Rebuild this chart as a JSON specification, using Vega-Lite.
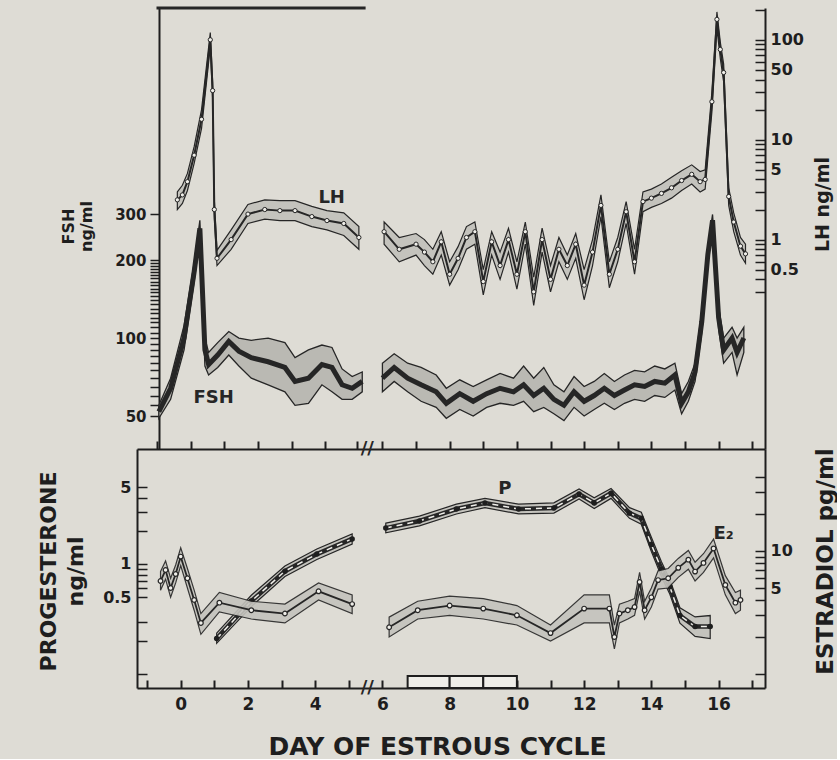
{
  "$schema": "https://vega.github.io/schema/vega-lite/v6.json",
  "background": "#dedcd5",
  "padding": {"left": 36, "top": 1, "right": 0, "bottom": 0},
  "spacing": 0,
  "bounds": "flush",
  "datasets": {
    "lh": [
      {"day": -0.1, "v": 2.5, "lo": 2.0, "hi": 3.0, "seg": "a"},
      {"day": 0.05, "v": 2.8, "lo": 2.3, "hi": 3.5, "seg": "a"},
      {"day": 0.2, "v": 3.8, "lo": 3.1, "hi": 4.6, "seg": "a"},
      {"day": 0.4, "v": 7, "lo": 5.8, "hi": 8.5, "seg": "a"},
      {"day": 0.62, "v": 16, "lo": 13, "hi": 20, "seg": "a"},
      {"day": 0.88, "v": 100, "lo": 85, "hi": 118, "seg": "a"},
      {"day": 0.95, "v": 31, "lo": 26, "hi": 38, "seg": "a"},
      {"day": 1.0, "v": 2.0, "lo": 1.6, "hi": 2.5, "seg": "a"},
      {"day": 1.08, "v": 0.65, "lo": 0.55, "hi": 0.78, "seg": "a"},
      {"day": 1.5, "v": 1.0, "lo": 0.8, "hi": 1.25, "seg": "a"},
      {"day": 2.0, "v": 1.8, "lo": 1.45, "hi": 2.25, "seg": "a"},
      {"day": 2.5, "v": 2.0, "lo": 1.6, "hi": 2.5, "seg": "a"},
      {"day": 2.95, "v": 1.95, "lo": 1.55, "hi": 2.45, "seg": "a"},
      {"day": 3.4, "v": 1.95, "lo": 1.55, "hi": 2.45, "seg": "a"},
      {"day": 3.9, "v": 1.7, "lo": 1.35, "hi": 2.15, "seg": "a"},
      {"day": 4.35, "v": 1.55, "lo": 1.25, "hi": 1.95, "seg": "a"},
      {"day": 4.85, "v": 1.45, "lo": 1.1, "hi": 1.85, "seg": "a"},
      {"day": 5.3, "v": 1.05, "lo": 0.8, "hi": 1.35, "seg": "a"},
      {"day": 6.05, "v": 1.2, "lo": 0.9, "hi": 1.5, "seg": "b"},
      {"day": 6.5, "v": 0.8, "lo": 0.6, "hi": 1.05, "seg": "b"},
      {"day": 7.0, "v": 0.9, "lo": 0.7, "hi": 1.15, "seg": "b"},
      {"day": 7.25, "v": 0.75, "lo": 0.55, "hi": 1.0, "seg": "b"},
      {"day": 7.5, "v": 0.6, "lo": 0.45, "hi": 0.8, "seg": "b"},
      {"day": 7.75, "v": 0.95, "lo": 0.7, "hi": 1.2, "seg": "b"},
      {"day": 8.0, "v": 0.45, "lo": 0.35, "hi": 0.6, "seg": "b"},
      {"day": 8.25, "v": 0.65, "lo": 0.5, "hi": 0.85, "seg": "b"},
      {"day": 8.5, "v": 1.05, "lo": 0.8, "hi": 1.35, "seg": "b"},
      {"day": 8.75, "v": 1.2, "lo": 0.9, "hi": 1.5, "seg": "b"},
      {"day": 9.0, "v": 0.38, "lo": 0.28, "hi": 0.5, "seg": "b"},
      {"day": 9.25, "v": 0.95, "lo": 0.7, "hi": 1.2, "seg": "b"},
      {"day": 9.5, "v": 0.55, "lo": 0.4, "hi": 0.75, "seg": "b"},
      {"day": 9.75, "v": 1.0, "lo": 0.75, "hi": 1.3, "seg": "b"},
      {"day": 10.0, "v": 0.45, "lo": 0.32, "hi": 0.6, "seg": "b"},
      {"day": 10.25, "v": 1.2, "lo": 0.9, "hi": 1.5, "seg": "b"},
      {"day": 10.5, "v": 0.3, "lo": 0.22, "hi": 0.42, "seg": "b"},
      {"day": 10.75, "v": 1.0, "lo": 0.75, "hi": 1.3, "seg": "b"},
      {"day": 11.0, "v": 0.4, "lo": 0.3, "hi": 0.55, "seg": "b"},
      {"day": 11.25, "v": 0.8, "lo": 0.6, "hi": 1.05, "seg": "b"},
      {"day": 11.5, "v": 0.55, "lo": 0.4, "hi": 0.7, "seg": "b"},
      {"day": 11.75, "v": 0.9, "lo": 0.65, "hi": 1.15, "seg": "b"},
      {"day": 12.0, "v": 0.35, "lo": 0.25, "hi": 0.5, "seg": "b"},
      {"day": 12.25, "v": 0.75, "lo": 0.55, "hi": 1.0, "seg": "b"},
      {"day": 12.5, "v": 2.2, "lo": 1.7, "hi": 2.8, "seg": "b"},
      {"day": 12.75, "v": 0.45, "lo": 0.33, "hi": 0.6, "seg": "b"},
      {"day": 13.0, "v": 0.8, "lo": 0.6, "hi": 1.05, "seg": "b"},
      {"day": 13.25, "v": 1.9, "lo": 1.45, "hi": 2.4, "seg": "b"},
      {"day": 13.5, "v": 0.6, "lo": 0.45, "hi": 0.8, "seg": "b"},
      {"day": 13.75, "v": 2.4, "lo": 1.9, "hi": 3.0, "seg": "b"},
      {"day": 14.0, "v": 2.6, "lo": 2.1, "hi": 3.2, "seg": "b"},
      {"day": 14.3, "v": 2.9, "lo": 2.3, "hi": 3.6, "seg": "b"},
      {"day": 14.6, "v": 3.3, "lo": 2.6, "hi": 4.2, "seg": "b"},
      {"day": 14.9, "v": 3.9, "lo": 3.1, "hi": 4.9, "seg": "b"},
      {"day": 15.2, "v": 4.5, "lo": 3.6, "hi": 5.6, "seg": "b"},
      {"day": 15.45, "v": 3.8, "lo": 3.0, "hi": 4.8, "seg": "b"},
      {"day": 15.6, "v": 4.0, "lo": 3.2, "hi": 5.0, "seg": "b"},
      {"day": 15.8, "v": 24, "lo": 19, "hi": 30, "seg": "b"},
      {"day": 15.95, "v": 160, "lo": 130, "hi": 190, "seg": "b"},
      {"day": 16.05, "v": 80, "lo": 65, "hi": 95, "seg": "b"},
      {"day": 16.15, "v": 47, "lo": 38, "hi": 57, "seg": "b"},
      {"day": 16.3, "v": 2.7, "lo": 2.2, "hi": 3.3, "seg": "b"},
      {"day": 16.45, "v": 1.5, "lo": 1.2, "hi": 1.85, "seg": "b"},
      {"day": 16.65, "v": 0.86, "lo": 0.7, "hi": 1.05, "seg": "b"},
      {"day": 16.8, "v": 0.72, "lo": 0.58, "hi": 0.9, "seg": "b"}
    ],
    "fsh": [
      {"day": -0.65, "v": 52, "lo": 49, "hi": 55, "seg": "a"},
      {"day": -0.3, "v": 64, "lo": 58, "hi": 70, "seg": "a"},
      {"day": 0.1, "v": 100, "lo": 90, "hi": 112, "seg": "a"},
      {"day": 0.4, "v": 180, "lo": 165, "hi": 195, "seg": "a"},
      {"day": 0.57, "v": 265, "lo": 245, "hi": 285, "seg": "a"},
      {"day": 0.72, "v": 90, "lo": 78, "hi": 100, "seg": "a"},
      {"day": 0.83, "v": 79, "lo": 72, "hi": 88, "seg": "a"},
      {"day": 1.1, "v": 86, "lo": 77, "hi": 96, "seg": "a"},
      {"day": 1.43, "v": 97, "lo": 86, "hi": 106, "seg": "a"},
      {"day": 1.73, "v": 89, "lo": 78, "hi": 100, "seg": "a"},
      {"day": 2.1, "v": 84, "lo": 70, "hi": 98, "seg": "a"},
      {"day": 2.6, "v": 81, "lo": 66, "hi": 100, "seg": "a"},
      {"day": 3.1, "v": 77, "lo": 62, "hi": 96, "seg": "a"},
      {"day": 3.4, "v": 68, "lo": 55, "hi": 84, "seg": "a"},
      {"day": 3.8, "v": 70, "lo": 56, "hi": 90, "seg": "a"},
      {"day": 4.2, "v": 79, "lo": 66, "hi": 94, "seg": "a"},
      {"day": 4.5, "v": 77, "lo": 62, "hi": 92, "seg": "a"},
      {"day": 4.8, "v": 66, "lo": 58, "hi": 76, "seg": "a"},
      {"day": 5.1, "v": 64, "lo": 58, "hi": 71, "seg": "a"},
      {"day": 5.4, "v": 68, "lo": 62, "hi": 74, "seg": "a"},
      {"day": 6.0, "v": 70, "lo": 62, "hi": 80, "seg": "b"},
      {"day": 6.35, "v": 77, "lo": 68, "hi": 87, "seg": "b"},
      {"day": 6.75, "v": 70, "lo": 62, "hi": 80, "seg": "b"},
      {"day": 7.15, "v": 66, "lo": 57, "hi": 77, "seg": "b"},
      {"day": 7.6, "v": 62, "lo": 54, "hi": 72, "seg": "b"},
      {"day": 7.9, "v": 56, "lo": 49, "hi": 64, "seg": "b"},
      {"day": 8.3, "v": 61, "lo": 53, "hi": 69, "seg": "b"},
      {"day": 8.7, "v": 57, "lo": 50, "hi": 65, "seg": "b"},
      {"day": 9.1, "v": 61, "lo": 54, "hi": 69, "seg": "b"},
      {"day": 9.5, "v": 64, "lo": 56, "hi": 73, "seg": "b"},
      {"day": 9.9, "v": 62, "lo": 55, "hi": 70, "seg": "b"},
      {"day": 10.2, "v": 66, "lo": 57, "hi": 78, "seg": "b"},
      {"day": 10.5, "v": 60, "lo": 52, "hi": 70, "seg": "b"},
      {"day": 10.8, "v": 64, "lo": 54, "hi": 77, "seg": "b"},
      {"day": 11.1, "v": 58, "lo": 51, "hi": 66, "seg": "b"},
      {"day": 11.4, "v": 55, "lo": 48, "hi": 62, "seg": "b"},
      {"day": 11.7, "v": 62, "lo": 54, "hi": 71, "seg": "b"},
      {"day": 12.0, "v": 57, "lo": 50, "hi": 65, "seg": "b"},
      {"day": 12.3, "v": 60, "lo": 53, "hi": 68, "seg": "b"},
      {"day": 12.6, "v": 64, "lo": 56, "hi": 73, "seg": "b"},
      {"day": 12.9, "v": 60, "lo": 53, "hi": 68, "seg": "b"},
      {"day": 13.2, "v": 63, "lo": 56, "hi": 72, "seg": "b"},
      {"day": 13.5, "v": 66, "lo": 58, "hi": 75, "seg": "b"},
      {"day": 13.8, "v": 65, "lo": 57, "hi": 74, "seg": "b"},
      {"day": 14.1, "v": 68, "lo": 60, "hi": 78, "seg": "b"},
      {"day": 14.4, "v": 67, "lo": 59, "hi": 76, "seg": "b"},
      {"day": 14.7, "v": 72, "lo": 63, "hi": 80, "seg": "b"},
      {"day": 14.9, "v": 56, "lo": 51, "hi": 61, "seg": "b"},
      {"day": 15.1, "v": 62, "lo": 57, "hi": 68, "seg": "b"},
      {"day": 15.3, "v": 74, "lo": 68, "hi": 80, "seg": "b"},
      {"day": 15.5, "v": 116, "lo": 105, "hi": 128, "seg": "b"},
      {"day": 15.68, "v": 210, "lo": 195, "hi": 225, "seg": "b"},
      {"day": 15.82, "v": 285, "lo": 265, "hi": 300, "seg": "b"},
      {"day": 16.0, "v": 120, "lo": 108, "hi": 132, "seg": "b"},
      {"day": 16.15, "v": 90, "lo": 80, "hi": 100, "seg": "b"},
      {"day": 16.4, "v": 100, "lo": 88, "hi": 110, "seg": "b"},
      {"day": 16.55, "v": 88, "lo": 72, "hi": 100, "seg": "b"},
      {"day": 16.75, "v": 100, "lo": 88, "hi": 110, "seg": "b"}
    ],
    "prog": [
      {"day": 1.07, "v": 0.21, "lo": 0.19, "hi": 0.235, "seg": "a"},
      {"day": 2.1, "v": 0.46, "lo": 0.41, "hi": 0.52, "seg": "a"},
      {"day": 3.1, "v": 0.86, "lo": 0.77, "hi": 0.96, "seg": "a"},
      {"day": 4.05, "v": 1.23, "lo": 1.1, "hi": 1.37, "seg": "a"},
      {"day": 5.1, "v": 1.69, "lo": 1.52, "hi": 1.88, "seg": "a"},
      {"day": 6.1, "v": 2.12, "lo": 1.92, "hi": 2.35, "seg": "b"},
      {"day": 7.1, "v": 2.46, "lo": 2.22, "hi": 2.72, "seg": "b"},
      {"day": 8.2, "v": 3.16, "lo": 2.85, "hi": 3.5, "seg": "b"},
      {"day": 9.05, "v": 3.59, "lo": 3.25, "hi": 3.95, "seg": "b"},
      {"day": 10.05, "v": 3.16, "lo": 2.85, "hi": 3.5, "seg": "b"},
      {"day": 11.1, "v": 3.23, "lo": 2.9, "hi": 3.6, "seg": "b"},
      {"day": 11.85, "v": 4.33, "lo": 3.9, "hi": 4.8, "seg": "b"},
      {"day": 12.3, "v": 3.59, "lo": 3.2, "hi": 4.0, "seg": "b"},
      {"day": 12.8, "v": 4.4, "lo": 3.95, "hi": 4.85, "seg": "b"},
      {"day": 13.35, "v": 2.9, "lo": 2.6, "hi": 3.25, "seg": "b"},
      {"day": 13.7, "v": 2.6, "lo": 2.3, "hi": 2.95, "seg": "b"},
      {"day": 14.0, "v": 1.5, "lo": 1.3, "hi": 1.75, "seg": "b"},
      {"day": 14.3, "v": 0.9, "lo": 0.77, "hi": 1.05, "seg": "b"},
      {"day": 14.55, "v": 0.62, "lo": 0.53, "hi": 0.72, "seg": "b"},
      {"day": 14.85, "v": 0.34, "lo": 0.29, "hi": 0.4, "seg": "b"},
      {"day": 15.3, "v": 0.27, "lo": 0.22, "hi": 0.33, "seg": "b"},
      {"day": 15.75, "v": 0.27, "lo": 0.21, "hi": 0.34, "seg": "b"}
    ],
    "e2": [
      {"day": -0.6, "v": 5.7, "lo": 4.8, "hi": 6.8, "seg": "a"},
      {"day": -0.45, "v": 7.0, "lo": 5.9, "hi": 8.3, "seg": "a"},
      {"day": -0.3, "v": 5.0, "lo": 4.2, "hi": 6.0, "seg": "a"},
      {"day": -0.15, "v": 6.5, "lo": 5.5, "hi": 7.7, "seg": "a"},
      {"day": 0.0, "v": 9.0, "lo": 7.6, "hi": 10.6, "seg": "a"},
      {"day": 0.2, "v": 6.0, "lo": 5.0, "hi": 7.2, "seg": "a"},
      {"day": 0.4, "v": 4.0, "lo": 3.3, "hi": 4.8, "seg": "a"},
      {"day": 0.6, "v": 2.6, "lo": 2.1, "hi": 3.1, "seg": "a"},
      {"day": 1.15, "v": 3.8, "lo": 3.2, "hi": 4.6, "seg": "a"},
      {"day": 2.1, "v": 3.3, "lo": 2.8, "hi": 3.9, "seg": "a"},
      {"day": 3.1, "v": 3.1, "lo": 2.6, "hi": 3.7, "seg": "a"},
      {"day": 4.1, "v": 4.7, "lo": 4.0, "hi": 5.5, "seg": "a"},
      {"day": 5.1, "v": 3.7, "lo": 3.1, "hi": 4.4, "seg": "a"},
      {"day": 6.2, "v": 2.4, "lo": 2.0, "hi": 2.9, "seg": "b"},
      {"day": 7.05, "v": 3.3, "lo": 2.8, "hi": 3.9, "seg": "b"},
      {"day": 8.0, "v": 3.6, "lo": 3.0, "hi": 4.3, "seg": "b"},
      {"day": 9.0, "v": 3.4, "lo": 2.8, "hi": 4.1, "seg": "b"},
      {"day": 10.0, "v": 3.0, "lo": 2.5, "hi": 3.6, "seg": "b"},
      {"day": 11.0, "v": 2.15, "lo": 1.85, "hi": 2.5, "seg": "b"},
      {"day": 12.0, "v": 3.4, "lo": 2.6, "hi": 4.4, "seg": "b"},
      {"day": 12.75, "v": 3.4, "lo": 2.6, "hi": 4.4, "seg": "b"},
      {"day": 12.9, "v": 2.0, "lo": 1.6, "hi": 2.5, "seg": "b"},
      {"day": 13.05, "v": 3.1, "lo": 2.6, "hi": 3.7, "seg": "b"},
      {"day": 13.3, "v": 3.3, "lo": 2.8, "hi": 3.9, "seg": "b"},
      {"day": 13.5, "v": 3.5, "lo": 3.0, "hi": 4.1, "seg": "b"},
      {"day": 13.65, "v": 5.6, "lo": 4.7, "hi": 6.7, "seg": "b"},
      {"day": 13.8, "v": 3.3, "lo": 2.8, "hi": 3.9, "seg": "b"},
      {"day": 14.0, "v": 4.2, "lo": 3.5, "hi": 5.0, "seg": "b"},
      {"day": 14.2, "v": 5.8, "lo": 4.9, "hi": 6.9, "seg": "b"},
      {"day": 14.5, "v": 6.0, "lo": 5.0, "hi": 7.2, "seg": "b"},
      {"day": 14.8, "v": 7.3, "lo": 6.1, "hi": 8.7, "seg": "b"},
      {"day": 15.1, "v": 8.5, "lo": 7.1, "hi": 10.1, "seg": "b"},
      {"day": 15.3, "v": 6.8, "lo": 5.7, "hi": 8.1, "seg": "b"},
      {"day": 15.55, "v": 8.0, "lo": 6.7, "hi": 9.5, "seg": "b"},
      {"day": 15.85, "v": 10.5, "lo": 8.8, "hi": 12.5, "seg": "b"},
      {"day": 16.2, "v": 5.3, "lo": 4.4, "hi": 6.3, "seg": "b"},
      {"day": 16.5, "v": 3.8, "lo": 3.1, "hi": 4.6, "seg": "b"},
      {"day": 16.65, "v": 4.0, "lo": 3.3, "hi": 4.8, "seg": "b"}
    ]
  },
  "vconcat": [
    {
      "width": 628,
      "height": 441,
      "encoding": {
        "x": {"field": "day", "type": "quantitative", "scale": {"domain": [-1.3, 17.38], "nice": false, "zero": false},
          "axis": {"orient": "bottom", "values": [-0.7, 0.3, 1.3, 2.3, 3.3, 4.3, 5.25, 6, 7, 8, 9, 10, 11, 12, 13, 14, 15, 16, 17], "labels": false, "title": null, "tickSize": -8, "tickWidth": 2, "domainWidth": 2}}
      },
      "layer": [
        {
          "data": {"name": "fsh"},
          "mark": {"type": "area", "fill": "#bab9b3", "stroke": "#262626", "strokeWidth": 1.3},
          "encoding": {
            "y": {"field": "hi", "type": "quantitative", "scale": {"type": "log", "domain": [37.3, 1880], "nice": false},
              "axis": {"orient": "left", "offset": -22, "values": [50, 55, 60, 65, 70, 75, 80, 85, 90, 95, 100, 105, 110, 115, 120, 125, 130, 135, 140, 145, 150, 155, 160, 165, 170, 175, 180, 185, 190, 195, 200, 300],
                "labelExpr": "indexof([50,100,200,300], datum.value) >= 0 ? '' + datum.value : ''",
                "tickSize": 9, "labelPadding": 4, "labelFontSize": 15, "labelFontWeight": "bold",
                "title": ["FSH", "ng/ml"], "titleAngle": -90, "titleX": -91, "titleY": 218, "titleFontSize": 16, "titleFontWeight": "bold", "titleAlign": "center", "titleBaseline": "middle"}},
            "y2": {"field": "lo"},
            "detail": {"field": "seg"}
          }
        },
        {
          "data": {"name": "fsh"},
          "mark": {"type": "line", "color": "#262626", "strokeWidth": 5},
          "encoding": {
            "y": {"field": "v", "type": "quantitative", "scale": {"type": "log", "domain": [37.3, 1880], "nice": false}, "axis": null},
            "detail": {"field": "seg"}
          }
        },
        {
          "data": {"values": [{"day": 0.98, "v": 58.7, "label": "FSH"}]},
          "mark": {"type": "text", "fontSize": 18, "fontWeight": "bold", "color": "#262626"},
          "encoding": {
            "y": {"field": "v", "type": "quantitative", "scale": {"type": "log", "domain": [37.3, 1880], "nice": false}, "axis": null},
            "text": {"field": "label"}
          }
        },
        {
          "data": {"values": [{"day": 5.55, "v": 37.3, "label": "//"}]},
          "mark": {"type": "text", "fontSize": 18, "fontWeight": "bold", "color": "#262626"},
          "encoding": {
            "y": {"field": "v", "type": "quantitative", "scale": {"type": "log", "domain": [37.3, 1880], "nice": false}, "axis": null},
            "text": {"field": "label"}
          }
        },
        {
          "data": {"values": [{"day": -0.72, "day2": 5.5, "v": 1880}]},
          "mark": {"type": "rule", "color": "#262626", "strokeWidth": 3},
          "encoding": {
            "x2": {"field": "day2"},
            "y": {"field": "v", "type": "quantitative", "scale": {"type": "log", "domain": [37.3, 1880], "nice": false}, "axis": null}
          }
        },
        {
          "data": {"name": "lh"},
          "mark": {"type": "area", "fill": "#c4c3bd", "stroke": "#262626", "strokeWidth": 1.2},
          "encoding": {
            "y": {"field": "hi", "type": "quantitative", "scale": {"type": "log", "domain": [0.00802, 208], "nice": false},
              "axis": {"orient": "right", "values": [0.3, 0.4, 0.5, 0.6, 0.7, 0.8, 0.9, 1, 2, 3, 4, 5, 6, 7, 8, 9, 10, 20, 30, 40, 50, 60, 70, 80, 90, 100, 200],
                "labelExpr": "indexof([0.5,1,5,10,50,100], datum.value) >= 0 ? '' + datum.value : ''",
                "tickSize": -10, "labelPadding": 15, "labelFontSize": 16, "labelFontWeight": "bold",
                "title": "LH  ng/ml", "titleAngle": -90, "titleX": 57, "titleY": 196, "titleFontSize": 19, "titleFontWeight": "bold", "titleAlign": "center", "titleBaseline": "middle"}},
            "y2": {"field": "lo"},
            "detail": {"field": "seg"}
          }
        },
        {
          "data": {"name": "lh"},
          "mark": {"type": "line", "color": "#262626", "strokeWidth": 2},
          "encoding": {
            "y": {"field": "v", "type": "quantitative", "scale": {"type": "log", "domain": [0.00802, 208], "nice": false}, "axis": null},
            "detail": {"field": "seg"}
          }
        },
        {
          "data": {"name": "lh"},
          "mark": {"type": "point", "shape": "circle", "filled": true, "fill": "#efeee9", "stroke": "#262626", "strokeWidth": 1, "size": 18, "opacity": 1},
          "encoding": {
            "y": {"field": "v", "type": "quantitative", "scale": {"type": "log", "domain": [0.00802, 208], "nice": false}, "axis": null}
          }
        },
        {
          "data": {"values": [{"day": 4.49, "v": 2.61, "label": "LH"}]},
          "mark": {"type": "text", "fontSize": 18, "fontWeight": "bold", "color": "#262626"},
          "encoding": {
            "y": {"field": "v", "type": "quantitative", "scale": {"type": "log", "domain": [0.00802, 208], "nice": false}, "axis": null},
            "text": {"field": "label"}
          }
        }
      ],
      "resolve": {"scale": {"y": "independent"}, "axis": {"y": "independent"}}
    },
    {
      "width": 628,
      "height": 239,
      "encoding": {
        "x": {"field": "day", "type": "quantitative", "scale": {"domain": [-1.3, 17.38], "nice": false, "zero": false},
          "axis": {"orient": "bottom", "values": [-1, 0, 1, 2, 3, 4, 5, 6, 7, 8, 9, 10, 11, 12, 13, 14, 15, 16, 17],
            "labelExpr": "(datum.value >= 0 && datum.value % 2 == 0) ? '' + datum.value : ''",
            "tickSize": -8, "tickWidth": 2, "domainWidth": 2, "labelPadding": 16, "labelFontSize": 17, "labelFontWeight": "bold",
            "title": "DAY OF ESTROUS CYCLE", "titleFontSize": 25, "titleFontWeight": "bold", "titleX": 300, "titleY": 58, "titleBaseline": "middle", "titleAlign": "center"}}
      },
      "layer": [
        {
          "data": {"name": "prog"},
          "mark": {"type": "area", "fill": "#c4c3bd", "stroke": "#262626", "strokeWidth": 1.2},
          "encoding": {
            "y": {"field": "hi", "type": "quantitative", "scale": {"type": "log", "domain": [0.0746, 11.1], "nice": false},
              "axis": {"orient": "left", "values": [0.1, 0.2, 0.3, 0.5, 0.6, 0.7, 0.8, 0.9, 1, 2, 3, 4, 5],
                "labelExpr": "indexof([0.5,1,5], datum.value) >= 0 ? '' + datum.value : ''",
                "tickSize": -10, "labelPadding": 16, "labelFontSize": 16, "labelFontWeight": "bold",
                "title": ["PROGESTERONE", "ng/ml"], "titleAngle": -90, "titleX": -89, "titleY": 122, "titleFontSize": 22, "titleLineHeight": 27, "titleFontWeight": "bold", "titleAlign": "center", "titleBaseline": "middle"}},
            "y2": {"field": "lo"},
            "detail": {"field": "seg"}
          }
        },
        {
          "data": {"name": "prog"},
          "mark": {"type": "line", "color": "#262626", "strokeWidth": 4.5},
          "encoding": {
            "y": {"field": "v", "type": "quantitative", "scale": {"type": "log", "domain": [0.0746, 11.1], "nice": false}, "axis": null},
            "detail": {"field": "seg"}
          }
        },
        {
          "data": {"name": "prog"},
          "mark": {"type": "line", "color": "#efeee9", "strokeWidth": 1.5, "strokeDash": [6, 5]},
          "encoding": {
            "y": {"field": "v", "type": "quantitative", "scale": {"type": "log", "domain": [0.0746, 11.1], "nice": false}, "axis": null},
            "detail": {"field": "seg"}
          }
        },
        {
          "data": {"name": "prog"},
          "mark": {"type": "point", "shape": "circle", "filled": true, "color": "#1e1e1e", "size": 30, "opacity": 1},
          "encoding": {
            "y": {"field": "v", "type": "quantitative", "scale": {"type": "log", "domain": [0.0746, 11.1], "nice": false}, "axis": null}
          }
        },
        {
          "data": {"values": [{"day": 9.64, "v": 4.8, "label": "P"}]},
          "mark": {"type": "text", "fontSize": 18, "fontWeight": "bold", "color": "#262626"},
          "encoding": {
            "y": {"field": "v", "type": "quantitative", "scale": {"type": "log", "domain": [0.0746, 11.1], "nice": false}, "axis": null},
            "text": {"field": "label"}
          }
        },
        {
          "data": {"values": [{"day": 5.55, "v": 0.0746, "label": "//"}]},
          "mark": {"type": "text", "fontSize": 18, "fontWeight": "bold", "color": "#262626"},
          "encoding": {
            "y": {"field": "v", "type": "quantitative", "scale": {"type": "log", "domain": [0.0746, 11.1], "nice": false}, "axis": null},
            "text": {"field": "label"}
          }
        },
        {
          "data": {"values": [{"day": 6.75, "day2": 8, "lo": 0.0746, "hi": 0.096}, {"day": 8, "day2": 9, "lo": 0.0746, "hi": 0.096}, {"day": 9, "day2": 10, "lo": 0.0746, "hi": 0.096}]},
          "mark": {"type": "rect", "fill": "#efeee9", "stroke": "#1e1e1e", "strokeWidth": 2},
          "encoding": {
            "x2": {"field": "day2"},
            "y": {"field": "lo", "type": "quantitative", "scale": {"type": "log", "domain": [0.0746, 11.1], "nice": false}, "axis": null},
            "y2": {"field": "hi"}
          }
        },
        {
          "data": {"name": "e2"},
          "mark": {"type": "area", "fill": "#c4c3bd", "stroke": "#262626", "strokeWidth": 1.2, "opacity": 0.9},
          "encoding": {
            "y": {"field": "hi", "type": "quantitative", "scale": {"type": "log", "domain": [0.769, 67.5], "nice": false},
              "axis": {"orient": "right", "values": [1, 2, 3, 4, 5, 6, 7, 8, 9, 10, 20, 30, 40],
                "labelExpr": "indexof([5,10], datum.value) >= 0 ? '' + datum.value : ''",
                "tickSize": -10, "labelPadding": 15, "labelFontSize": 16, "labelFontWeight": "bold",
                "title": "ESTRADIOL  pg/ml", "titleAngle": -90, "titleX": 60, "titleY": 112, "titleFontSize": 23, "titleFontWeight": "bold", "titleAlign": "center", "titleBaseline": "middle"}},
            "y2": {"field": "lo"},
            "detail": {"field": "seg"}
          }
        },
        {
          "data": {"name": "e2"},
          "mark": {"type": "line", "color": "#262626", "strokeWidth": 1.8},
          "encoding": {
            "y": {"field": "v", "type": "quantitative", "scale": {"type": "log", "domain": [0.769, 67.5], "nice": false}, "axis": null},
            "detail": {"field": "seg"}
          }
        },
        {
          "data": {"name": "e2"},
          "mark": {"type": "point", "shape": "circle", "filled": true, "fill": "#efeee9", "stroke": "#262626", "strokeWidth": 1.2, "size": 22, "opacity": 1},
          "encoding": {
            "y": {"field": "v", "type": "quantitative", "scale": {"type": "log", "domain": [0.769, 67.5], "nice": false}, "axis": null}
          }
        },
        {
          "data": {"values": [{"day": 16.15, "v": 13.7, "label": "E₂"}]},
          "mark": {"type": "text", "fontSize": 18, "fontWeight": "bold", "color": "#262626"},
          "encoding": {
            "y": {"field": "v", "type": "quantitative", "scale": {"type": "log", "domain": [0.769, 67.5], "nice": false}, "axis": null},
            "text": {"field": "label"}
          }
        }
      ],
      "resolve": {"scale": {"y": "independent"}, "axis": {"y": "independent"}}
    }
  ],
  "config": {
    "font": "DejaVu Sans",
    "view": {"stroke": null},
    "axis": {
      "grid": false,
      "domainColor": "#1e1e1e",
      "tickColor": "#1e1e1e",
      "labelColor": "#1e1e1e",
      "titleColor": "#1e1e1e",
      "domainWidth": 2,
      "tickWidth": 1.5,
      "labelOverlap": false,
      "labelFlush": false,
      "labelBound": false
    }
  }
}
